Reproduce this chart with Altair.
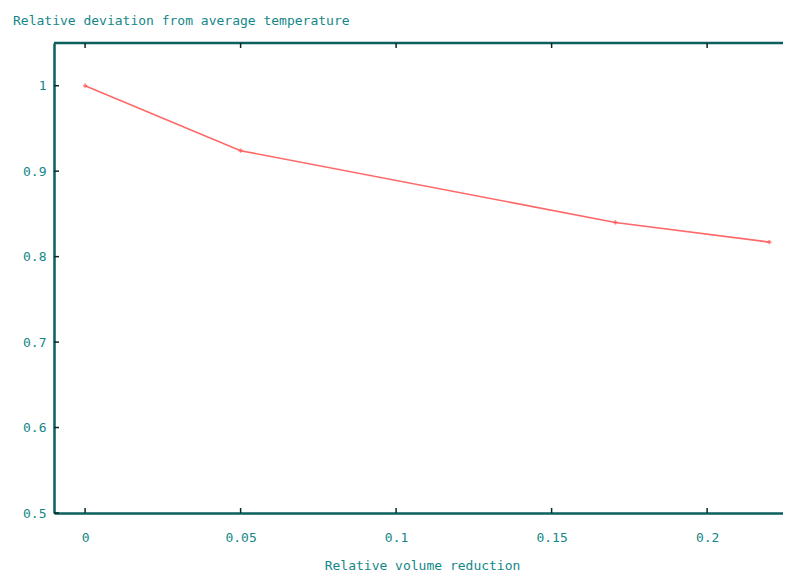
import altair as alt
import pandas as pd

x_vals = [0.0, 0.05, 0.1705, 0.22]
y_vals = [1.0, 0.924, 0.840, 0.817]
x_ticks = [0, 0.05, 0.1, 0.15, 0.2]
y_ticks = [0.5, 0.6, 0.7, 0.8, 0.9, 1.0]

title_text = "Relative deviation from average temperature"
x_title = "Relative volume reduction"

FONT = "DejaVu Sans Mono"
TEXT = "#138787"
AXIS = "#0b5f5f"
RED = "#ff4d4d"

W, H = 729, 470
XD = [-0.01, 0.2244]
YD = [0.5, 1.05]

df = pd.DataFrame({"x": x_vals, "y": y_vals})
xt = pd.DataFrame({"x": x_ticks})
yt = pd.DataFrame({"y": y_ticks})

xs = alt.Scale(domain=XD, nice=False, zero=False)
ys = alt.Scale(domain=YD, nice=False, zero=False)

base_x_axis = alt.Axis(values=x_ticks, labelExpr="'' + datum.value", labelFont=FONT, labelFontSize=13,
                       labelColor=TEXT, domainColor=AXIS, domainWidth=2.5, ticks=False,
                       labelPadding=18, grid=False, title=x_title, titleFont=FONT,
                       titleFontSize=13, titleFontWeight="normal", titleColor=TEXT,
                       titlePadding=15, titleX=368)
base_y_axis = alt.Axis(values=y_ticks, labelExpr="'' + datum.value", labelFont=FONT, labelFontSize=13,
                       labelColor=TEXT, domainColor=AXIS, domainWidth=2.5, ticks=False,
                       labelPadding=8, grid=False, title=None)

line = alt.Chart(df).mark_line(color=RED, strokeWidth=1.6, opacity=0.85).encode(
    x=alt.X("x:Q", scale=xs, axis=base_x_axis),
    y=alt.Y("y:Q", scale=ys, axis=base_y_axis),
)
pts = alt.Chart(df).mark_point(shape="cross", filled=True, size=18, color=RED).encode(
    x=alt.X("x:Q", scale=xs), y=alt.Y("y:Q", scale=ys)
)

# top border line
top = alt.Chart(xt).mark_rule(color=AXIS, strokeWidth=2.5).encode(
    x=alt.value(0), x2=alt.value(W), y=alt.value(0)
).transform_filter("datum.x == 0")

# inward ticks
xtick_bottom = alt.Chart(xt).mark_rule(color="#0a2a2a", strokeWidth=1.5).encode(
    x=alt.X("x:Q", scale=xs), y=alt.value(H - 5), y2=alt.value(H)
)
xtick_top = alt.Chart(xt).mark_rule(color="#0a2a2a", strokeWidth=1.5).encode(
    x=alt.X("x:Q", scale=xs), y=alt.value(0), y2=alt.value(5)
)
ytick = alt.Chart(yt).mark_rule(color="#0a2a2a", strokeWidth=1.5).encode(
    y=alt.Y("y:Q", scale=ys), x=alt.value(0), x2=alt.value(5)
)

chart = alt.layer(top, xtick_bottom, xtick_top, ytick, line, pts).properties(
    width=W, height=H,
    title=alt.TitleParams(title_text, anchor="start", frame="group", dx=-41, offset=14, font=FONT,
                          fontSize=13, fontWeight="normal", color=TEXT),
    autosize=alt.AutoSizeParams(type="none"),
    padding={"left": 46, "top": 35, "right": 0, "bottom": 63},
).configure_view(stroke=None).configure(background="white")

chart.save("out.html", embed_options={"renderer": "svg", "actions": False})
